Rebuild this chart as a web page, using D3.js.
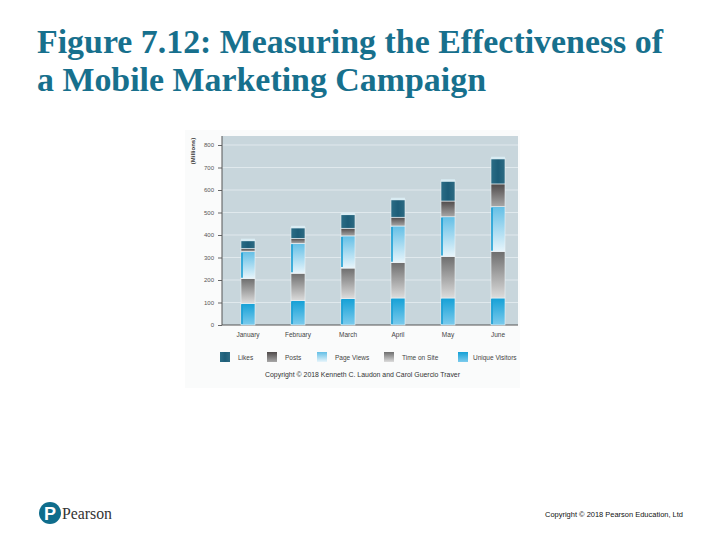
<!DOCTYPE html>
<html>
<head>
<meta charset="utf-8">
<script src="https://cdn.jsdelivr.net/npm/d3@7"></script>
<style>
  body { margin: 0; background: #fff; }
  svg { display: block; }
</style>
</head>
<body>
<div id="chart"></div>
<script>
var w = 720, h = 540;

// data (millions)
var months = ["January", "February", "March", "April", "May", "June"];
var uniqueVisitors = [96, 108, 117, 120, 120, 120];
var timeOnSite = [110, 122, 136, 157, 184, 206];
var pageViews = [120, 133, 143, 163, 177, 200];
var posts = [14, 22, 34, 39, 70, 101];
var likes = [37, 49, 63, 80, 90, 114];
var yTicks = [0, 100, 200, 300, 400, 500, 600, 700, 800];

// stacking order, bottom to top
var seriesKeys = ["Unique Visitors", "Time on Site", "Page Views", "Posts", "Likes"];
var legendKeys = ["Likes", "Posts", "Page Views", "Time on Site", "Unique Visitors"];

var rows = months.map(function (m, i) {
    return {
        month: m,
        "Unique Visitors": uniqueVisitors[i],
        "Time on Site": timeOnSite[i],
        "Page Views": pageViews[i],
        "Posts": posts[i],
        "Likes": likes[i]
    };
});

var gradId = {
    "Likes": "gLikes",
    "Posts": "gPosts",
    "Page Views": "gPV",
    "Time on Site": "gTOS",
    "Unique Visitors": "gUV"
};

var svg = d3.select("#chart").append("svg")
    .attr("width", w).attr("height", h);

svg.html(`<defs>
<linearGradient id="gLikes" x1="0" y1="0" x2="1" y2="0">
  <stop offset="0%" stop-color="#2b6d86"/>
  <stop offset="50%" stop-color="#1d5d78"/>
  <stop offset="100%" stop-color="#2d6a82"/>
</linearGradient>
<linearGradient id="gPosts" x1="0" y1="0" x2="0" y2="1">
  <stop offset="0%" stop-color="#4f4a4a"/>
  <stop offset="100%" stop-color="#a8a8a8"/>
</linearGradient>
<linearGradient id="gPV" x1="0" y1="0" x2="0" y2="1">
  <stop offset="0%" stop-color="#63bfe6"/>
  <stop offset="100%" stop-color="#e8f5fb"/>
</linearGradient>
<linearGradient id="gTOS" x1="0" y1="0" x2="0" y2="1">
  <stop offset="0%" stop-color="#6e6e6e"/>
  <stop offset="100%" stop-color="#dcdcdc"/>
</linearGradient>
<linearGradient id="gUV" x1="0" y1="0" x2="0" y2="1">
  <stop offset="0%" stop-color="#14a0d6"/>
  <stop offset="100%" stop-color="#7ccbed"/>
</linearGradient>
</defs>`);

// title
var titleColor = "#17708d";
svg.append("text")
    .attr("x", 37).attr("y", 53)
    .attr("font-family", "Liberation Serif")
    .attr("font-weight", "bold")
    .attr("font-size", 33)
    .attr("fill", titleColor)
    .attr("textLength", 626).attr("lengthAdjust", "spacingAndGlyphs")
    .text("Figure 7.12: Measuring the Effectiveness of");
svg.append("text")
    .attr("x", 37).attr("y", 91)
    .attr("font-family", "Liberation Serif")
    .attr("font-weight", "bold")
    .attr("font-size", 33)
    .attr("fill", titleColor)
    .attr("textLength", 449).attr("lengthAdjust", "spacingAndGlyphs")
    .text("a Mobile Marketing Campaign");

// figure panel
var plot = { left: 222, right: 518, top: 136, bottom: 325 };

svg.append("rect")
    .attr("x", 185).attr("y", 130).attr("width", 335).attr("height", 258)
    .attr("fill", "#fafbfb");

svg.append("rect")
    .attr("x", plot.left).attr("y", plot.top)
    .attr("width", plot.right - plot.left).attr("height", plot.bottom - plot.top)
    .attr("fill", "#c8d6dc");

var x = d3.scaleBand().domain(months).range([223, 523]).paddingInner(0.72).paddingOuter(0.36);
var y = d3.scaleLinear().domain([0, 800]).range([plot.bottom, 145]);

// gridlines
svg.append("g")
    .selectAll("line").data(yTicks.filter(function (d) { return d > 0; })).enter().append("line")
    .attr("x1", plot.left).attr("x2", plot.right)
    .attr("y1", function (d) { return y(d); }).attr("y2", function (d) { return y(d); })
    .attr("stroke", "#e6eef1").attr("stroke-width", 0.8);

// y axis
var yAxis = svg.append("g")
    .attr("transform", "translate(" + plot.left + ",0)")
    .call(d3.axisLeft(y).tickValues(yTicks).tickSize(4).tickPadding(4).tickFormat(d3.format("d")));
yAxis.select(".domain").remove();
yAxis.selectAll("line").attr("stroke", "#666");
yAxis.selectAll("text").attr("font-family", "Liberation Sans").attr("font-size", 6).attr("fill", "#555");

svg.append("line")
    .attr("x1", plot.left).attr("x2", plot.left)
    .attr("y1", plot.top).attr("y2", plot.bottom)
    .attr("stroke", "#555").attr("stroke-width", 1);
svg.append("line")
    .attr("x1", plot.left).attr("x2", plot.right)
    .attr("y1", plot.bottom).attr("y2", plot.bottom)
    .attr("stroke", "#555").attr("stroke-width", 1);

svg.append("text")
    .attr("transform", "translate(195,151) rotate(-90)")
    .attr("text-anchor", "middle")
    .attr("font-family", "Liberation Sans").attr("font-weight", "bold")
    .attr("font-size", 6).attr("fill", "#333")
    .text("(Millions)");

// x labels
svg.append("g").selectAll("text").data(months).enter().append("text")
    .attr("x", function (d) { return x(d) + x.bandwidth() / 2; })
    .attr("y", 337)
    .attr("text-anchor", "middle")
    .attr("font-family", "Liberation Sans").attr("font-size", 6.5).attr("fill", "#444")
    .text(function (d) { return d; });

// stacked bars
var stacked = d3.stack().keys(seriesKeys)(rows);

var layers = svg.append("g").selectAll("g.layer")
    .data(stacked).enter().append("g")
    .attr("class", "layer");

layers.selectAll("rect")
    .data(function (d) { return d.map(function (p) { return { key: d.key, p: p }; }); })
    .enter().append("rect")
    .attr("x", function (d) { return x(d.p.data.month); })
    .attr("width", x.bandwidth())
    .attr("y", function (d) { return y(d.p[1]); })
    .attr("height", function (d) { return y(d.p[0]) - y(d.p[1]); })
    .attr("fill", function (d) { return "url(#" + gradId[d.key] + ")"; })
    .attr("stroke", "#eef4f7").attr("stroke-width", 0.6);

// bright left edge on the blue segments
layers.filter(function (d) { return d.key === "Page Views" || d.key === "Unique Visitors"; })
    .selectAll("line.edge")
    .data(function (d) { return d; }).enter().append("line")
    .attr("x1", function (d) { return x(d.data.month) + 1; })
    .attr("x2", function (d) { return x(d.data.month) + 1; })
    .attr("y1", function (d) { return y(d[1]) + 1; })
    .attr("y2", function (d) { return y(d[0]) - 1; })
    .attr("stroke", "#1b9fd3").attr("stroke-width", 1.6);

// glossy cap on top of each bar
svg.append("g").selectAll("rect").data(stacked[stacked.length - 1]).enter().append("rect")
    .attr("x", function (d) { return x(d.data.month); })
    .attr("width", x.bandwidth())
    .attr("y", function (d) { return y(d[1]) - 1.5; })
    .attr("height", 2.5)
    .attr("fill", "#d9ecf3");

// legend
var legendX = [220, 267, 317, 384, 458];
var legend = svg.append("g").selectAll("g").data(legendKeys).enter().append("g")
    .attr("transform", function (d, i) { return "translate(" + legendX[i] + ",352)"; });
legend.append("rect")
    .attr("width", 10).attr("height", 10)
    .attr("fill", function (d) { return "url(#" + gradId[d] + ")"; });
legend.append("text")
    .attr("x", function (d) { return d === "Unique Visitors" ? 15 : 18; })
    .attr("y", 7.5)
    .attr("font-family", "Liberation Sans").attr("font-size", 6.5).attr("fill", "#444")
    .text(function (d) { return d; });

svg.append("text")
    .attr("x", 265).attr("y", 377)
    .attr("font-family", "Liberation Sans")
    .attr("font-size", 6.5).attr("fill", "#333")
    .attr("textLength", 195).attr("lengthAdjust", "spacingAndGlyphs")
    .text("Copyright \u00A9 2018 Kenneth C. Laudon and Carol Guercio Traver");

// footer: Pearson logo
svg.append("circle")
    .attr("cx", 50).attr("cy", 513).attr("r", 11)
    .attr("fill", "#0f6d8c");
svg.append("text")
    .attr("x", 50).attr("y", 519.5)
    .attr("text-anchor", "middle")
    .attr("font-family", "Liberation Sans").attr("font-weight", "bold")
    .attr("font-size", 18).attr("fill", "#fff")
    .text("P");
svg.append("text")
    .attr("x", 62).attr("y", 519)
    .attr("font-family", "Liberation Serif")
    .attr("font-size", 16).attr("fill", "#333")
    .attr("textLength", 50).attr("lengthAdjust", "spacingAndGlyphs")
    .text("Pearson");

svg.append("text")
    .attr("x", 545).attr("y", 517)
    .attr("font-family", "Liberation Sans")
    .attr("font-size", 6.5).attr("fill", "#111")
    .attr("textLength", 138).attr("lengthAdjust", "spacingAndGlyphs")
    .text("Copyright \u00A9 2018 Pearson Education, Ltd");
</script>
</body>
</html>
